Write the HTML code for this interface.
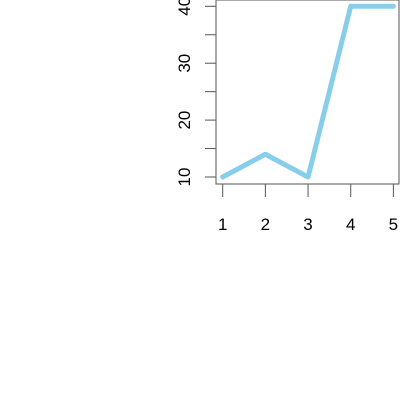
<!DOCTYPE html>
<html><head><meta charset="utf-8"><style>
html,body{margin:0;padding:0;background:#fff;}
svg{display:block;font-family:"Liberation Sans",sans-serif;}
</style></head><body>
<svg id="chart" width="400" height="400">
<rect x="216" y="0" width="183" height="184" fill="none" stroke="#555" stroke-width="1"/>
<g id="axes"></g>
<polyline id="line" fill="none" stroke="#87CEEB" stroke-width="5" stroke-linejoin="round" stroke-linecap="round"/>
</svg>
<script>
const categories = [1, 2, 3, 4, 5];
const values = [10, 14, 10, 40, 40];
const yTicks = [10, 20, 30, 40];
const yMinorTicks = [10, 15, 20, 25, 30, 35, 40];
const NS = "http://www.w3.org/2000/svg";
function xs(v){ return 222.7 + (v - 1) * 42.67; }
function ys(v){ return 177 - (v - 10) * 5.69; }
const axes = document.getElementById('axes');
function mk(tag, attrs){ const e = document.createElementNS(NS, tag); for (const k in attrs) e.setAttribute(k, attrs[k]); axes.appendChild(e); return e; }
mk('line', {x1:216, y1:0, x2:216, y2:184, stroke:'#555'});
categories.forEach(c => {
  const t = mk('line', {x1:xs(c), y1:184, x2:xs(c), y2:197, stroke:'#555'});
  
  
  const l = mk('text', {x:xs(c), y:230, 'font-size':17, 'text-anchor':'middle', fill:'#000'});
  l.textContent = c;
  
  
});
yMinorTicks.forEach(v => {
  const t = mk('line', {x1:205, y1:ys(v), x2:216, y2:ys(v), stroke:'#555'});
  
  
});
yTicks.forEach(v => {
  const l = mk('text', {x:0, y:0, 'font-size':17, 'text-anchor':'middle', fill:'#000', transform:'translate(190,' + ys(v) + ') rotate(-90)'});
  l.textContent = v;
  
  
});
document.getElementById('line').setAttribute('points', categories.map((c, i) => xs(c) + ',' + ys(values[i])).join(' '));
</script>
</body></html>
